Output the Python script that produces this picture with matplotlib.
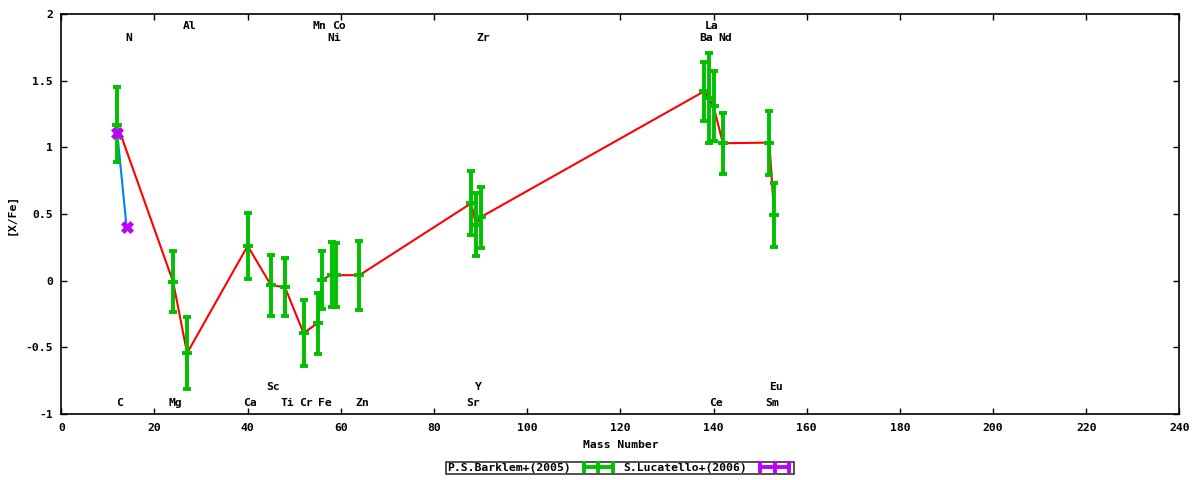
import matplotlib
matplotlib.use("Agg")
from matplotlib import pyplot as plt
from matplotlib.lines import Line2D
import numpy as np

# Barklem+(2005) abundances, [X/Fe] against mass number
barklem_elem = ['C', 'Mg', 'Al', 'Ca', 'Sc', 'Ti', 'Cr', 'Mn', 'Fe', 'Ni', 'Co', 'Zn',
                'Sr', 'Y', 'Zr', 'Ba', 'La', 'Ce', 'Nd', 'Sm', 'Eu']
barklem_mass = [12, 24, 27, 40, 45, 48, 52, 55, 56, 58, 59, 64,
                88, 89, 90, 138, 139, 140, 142, 152, 153]
barklem_xfe = [1.17, -0.01, -0.545, 0.26, -0.035, -0.05, -0.395, -0.32, 0.005, 0.045, 0.04, 0.04,
               0.58, 0.42, 0.475, 1.42, 1.37, 1.31, 1.03, 1.035, 0.495]
barklem_err = [0.28, 0.23, 0.27, 0.25, 0.23, 0.22, 0.25, 0.23, 0.22, 0.245, 0.24, 0.26,
               0.24, 0.235, 0.23, 0.22, 0.34, 0.26, 0.23, 0.24, 0.24]

# Lucatello+(2006)
lucatello_elem = ['C', 'N']
lucatello_mass = [12, 14]
lucatello_xfe = [1.11, 0.405]
lucatello_err = [0.0, 0.0]

# element names written on the plot, by row
row_bottom = [('C', 12), ('Mg', 24), ('Ca', 40), ('Ti', 48), ('Cr', 52), ('Fe', 56), ('Zn', 64),
              ('Sr', 88), ('Ce', 140), ('Sm', 152)]
row_low2 = [('Sc', 45), ('Y', 89), ('Eu', 153)]
row_top2 = [('N', 14), ('Ni', 58), ('Zr', 90), ('Ba', 138), ('Nd', 142)]
row_top = [('Al', 27), ('Mn', 55), ('Co', 59), ('La', 139)]

GREEN = '#00c000'
MAGENTA = '#c000ff'
RED = '#ff0000'
BLUE = '#0080ff'
FONT = 'DejaVu Sans Mono'
FS = 8.2

plt.rcParams['font.family'] = FONT
plt.rcParams['font.weight'] = 'bold'
plt.rcParams['axes.unicode_minus'] = False

fig = plt.figure(figsize=(12, 4.8), dpi=100)
ax = fig.add_axes([0.0511, 0.138, 0.9317, 0.8328])

# connecting lines
ax.plot(barklem_mass, barklem_xfe, color=RED, lw=1.5, zorder=2)
ax.plot(lucatello_mass, lucatello_xfe, color=BLUE, lw=1.5, zorder=2)

# error bars
ax.errorbar(barklem_mass, barklem_xfe, yerr=barklem_err, fmt='_', color=GREEN,
            ms=7, mew=2.8, elinewidth=2.8, capsize=3.2, capthick=2.8, zorder=3)
ax.errorbar(lucatello_mass, lucatello_xfe, yerr=lucatello_err, fmt='X', color=MAGENTA,
            ms=9, mew=0.5, elinewidth=2.8, capsize=3.2, capthick=2.8, zorder=4)

for rows, yv in ((row_bottom, -0.92), (row_low2, -0.80), (row_top2, 1.82), (row_top, 1.91)):
    for name, m in rows:
        ax.text(m + 0.5, yv, name, ha='center', va='center', fontsize=FS,
                fontweight='bold', family=FONT)

ax.set_xlim(0, 240)
ax.set_ylim(-1, 2)
ax.set_xticks(np.arange(0, 241, 20))
ax.set_yticks(np.arange(-1, 2.01, 0.5))
ax.yaxis.set_major_formatter(matplotlib.ticker.FormatStrFormatter('%g'))
ax.tick_params(direction='in', length=4, width=1, top=True, right=True, labelsize=FS)
ax.tick_params(axis='x', pad=7)
ax.tick_params(axis='y', pad=6)
for s in ax.spines.values():
    s.set_linewidth(1.2)

ax.set_xlabel('Mass Number', fontsize=FS, fontweight='bold')
ax.set_ylabel('[X/Fe]', fontsize=FS, fontweight='bold')
ax.xaxis.set_label_coords(0.5, -0.065)
ax.yaxis.set_label_coords(-0.04, 0.5)

h1 = Line2D([], [], color=GREEN, lw=2.8, marker='|', ms=8, mew=2.8)
h2 = Line2D([], [], color=MAGENTA, lw=2.8, marker='|', ms=8, mew=2.8)
leg = fig.legend([h1, h2], ['P.S.Barklem+(2005)', 'S.Lucatello+(2006)'],
                 loc='center', bbox_to_anchor=(0.5167, 0.025), ncol=2, numpoints=3,
                 markerfirst=False, frameon=True, fancybox=False, shadow=False,
                 handlelength=3.2, handletextpad=0.8, columnspacing=0.6,
                 borderpad=0.1, borderaxespad=0, prop={'family': FONT, 'weight': 'bold', 'size': FS})
leg.get_frame().set_edgecolor('black')
leg.get_frame().set_linewidth(1.2)

fig.savefig('out.png', dpi=100)
